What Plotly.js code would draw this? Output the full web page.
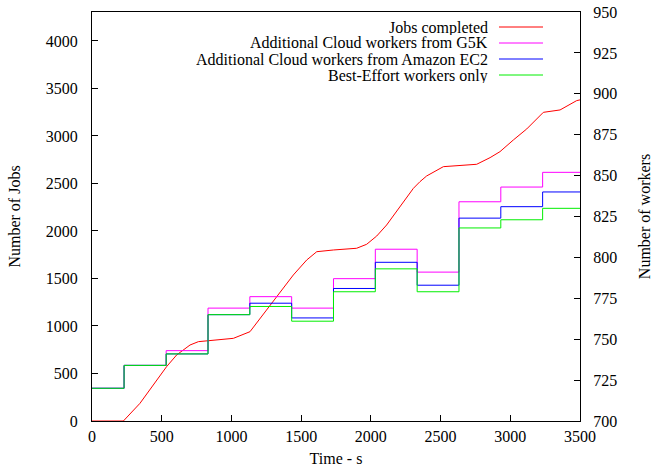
<!DOCTYPE html>
<html>
<head>
<meta charset="utf-8">
<script src="https://cdn.plot.ly/plotly-3.0.1.min.js"></script>
<style>html,body{margin:0;padding:0;background:#fff;}#chart{width:654px;height:468px;}</style>
</head>
<body>
<div id="chart"></div>
<script>
// Jobs completed (left axis)
const jobTimes = [0, 225, 344, 440, 535, 607, 703, 763, 846, 1014, 1133, 1205, 1277, 1325, 1444, 1540, 1612, 1731, 1898, 1970, 2042, 2113, 2185, 2257, 2305, 2352, 2400, 2520, 2640, 2759, 2855, 2926, 3022, 3118, 3237, 3357, 3476, 3500];
const jobsCompleted = [0, 0, 186, 379, 572, 695, 800, 835, 845, 870, 940, 1081, 1221, 1308, 1537, 1695, 1782, 1800, 1818, 1860, 1947, 2063, 2203, 2344, 2449, 2519, 2579, 2677, 2690, 2702, 2772, 2835, 2958, 3074, 3249, 3274, 3372, 3380];

// Worker counts (right axis), step changes
const stepTimes = [0, 230, 532, 832, 1132, 1432, 1732, 2032, 2332, 2632, 2932, 3232, 3500];
const workersG5K = [720, 734, 743, 769, 776, 769, 787, 805, 791, 834, 843, 852, 852];
const workersEC2 = [720, 734, 741, 765, 772, 763, 781, 797, 783, 824, 831, 840, 840];
const workersBestEffort = [720, 734, 741, 765, 770, 761, 779, 793, 779, 818, 823, 830, 830];

const seriesNames = ["Jobs completed", "Additional Cloud workers from G5K", "Additional Cloud workers from Amazon EC2", "Best-Effort workers only"];
const seriesColors = ["#ff0000", "#ff00ff", "#0000ff", "#00ee00"];

const xTicks = [0, 500, 1000, 1500, 2000, 2500, 3000, 3500];
const yTicks = [0, 500, 1000, 1500, 2000, 2500, 3000, 3500, 4000];
const y2Ticks = [700, 725, 750, 775, 800, 825, 850, 875, 900, 925, 950];

const FONT = "'Liberation Serif', 'Times New Roman', serif";

const traces = [
  {x: jobTimes, y: jobsCompleted, name: seriesNames[0], mode: "lines", line: {color: seriesColors[0], width: 1}, yaxis: "y", showlegend: false},
  {x: stepTimes, y: workersG5K, name: seriesNames[1], mode: "lines", line: {color: seriesColors[1], width: 1, shape: "hv"}, yaxis: "y2", showlegend: false},
  {x: stepTimes, y: workersEC2, name: seriesNames[2], mode: "lines", line: {color: seriesColors[2], width: 1, shape: "hv"}, yaxis: "y2", showlegend: false},
  {x: stepTimes, y: workersBestEffort, name: seriesNames[3], mode: "lines", line: {color: seriesColors[3], width: 1, shape: "hv"}, yaxis: "y2", showlegend: false}
];

// Custom legend: text on the left, line sample on the right (gnuplot style)
const L = 92, R = 580, T = 12, B = 421;
const px = v => (v - L) / (R - L);
const py = v => (B - v) / (B - T);
const rowsY = [27, 43, 59, 75];
const annotations = [];
const shapes = [];
seriesNames.forEach((n, i) => {
  annotations.push({xref: "paper", yref: "paper", x: px(490), y: py(rowsY[i]), xanchor: "right", yanchor: "middle", height: 15, valign: "middle", text: n, showarrow: false, font: {family: FONT, size: 16, color: "#000"}});
  shapes.push({type: "line", xref: "paper", yref: "paper", x0: px(499), x1: px(543), y0: py(rowsY[i]), y1: py(rowsY[i]), line: {color: seriesColors[i], width: 1}});
});

const layout = {
  width: 654, height: 468,
  margin: {l: L, r: 654 - R, t: T, b: 468 - B, pad: 0},
  paper_bgcolor: "#fff", plot_bgcolor: "#fff",
  font: {family: FONT, size: 16, color: "#000"},
  showlegend: false,
  xaxis: {
    range: [0, 3500], tickvals: xTicks, ticktext: xTicks.map(String),
    ticks: "inside", ticklen: 6, tickwidth: 1, tickcolor: "#000",
    showline: true, linecolor: "#000", linewidth: 1, mirror: true,
    showgrid: false, zeroline: false, ticklabelstandoff: 1,
    tickfont: {family: FONT, size: 16},
    title: {text: "Time - s", font: {family: FONT, size: 16}, standoff: 8}
  },
  yaxis: {
    range: [0, 4305], tickvals: yTicks, ticktext: yTicks.map(String),
    ticks: "inside", ticklen: 6, tickwidth: 1, tickcolor: "#000",
    showline: true, linecolor: "#000", linewidth: 1, mirror: true,
    showgrid: false, zeroline: false, ticklabelstandoff: 10,
    tickfont: {family: FONT, size: 16},
    title: {text: "Number of Jobs", font: {family: FONT, size: 16}, standoff: 21}
  },
  yaxis2: {
    range: [700, 950], tickvals: y2Ticks, ticktext: y2Ticks.map(String),
    overlaying: "y", side: "right",
    ticks: "inside", ticklen: 6, tickwidth: 1, tickcolor: "#000",
    showline: true, linecolor: "#000", linewidth: 1,
    showgrid: false, zeroline: false, ticklabelstandoff: 9,
    tickfont: {family: FONT, size: 16},
    title: {text: "Number of workers", font: {family: FONT, size: 16}, standoff: 22}
  },
  annotations: annotations,
  shapes: shapes
};

Plotly.newPlot("chart", traces, layout, {displayModeBar: false, staticPlot: true});
</script>
</body>
</html>
